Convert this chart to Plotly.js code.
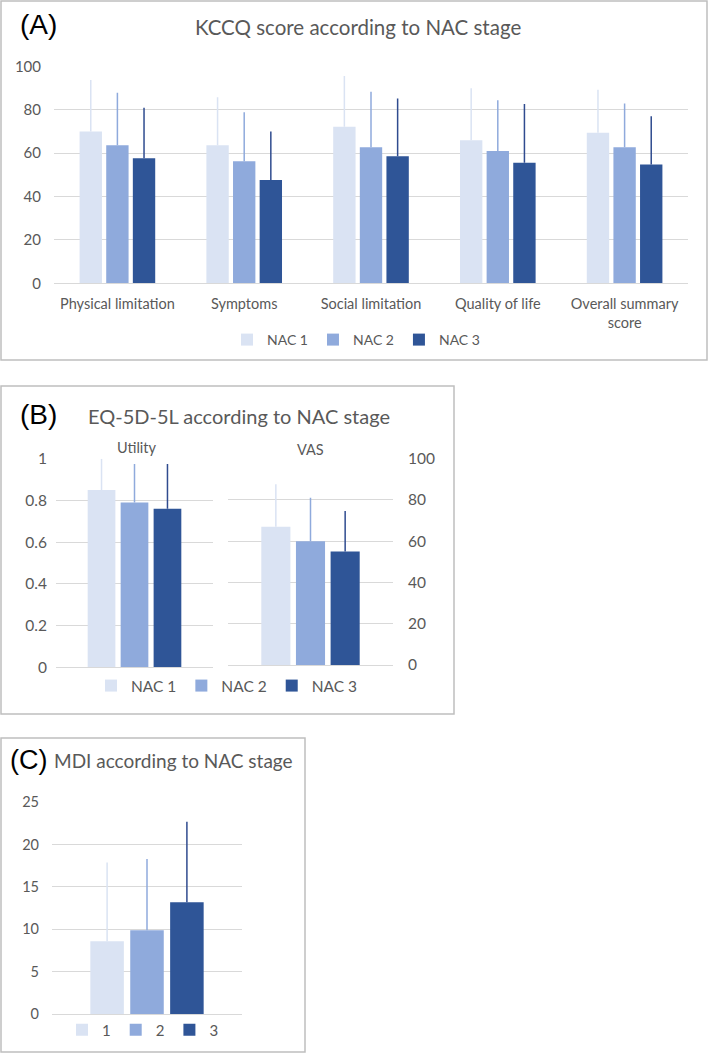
<!DOCTYPE html>
<html>
<head>
<meta charset="utf-8">
<script src="https://cdn.plot.ly/plotly-3.0.1.min.js"></script>
<style>
  html, body { margin: 0; padding: 0; background: #ffffff; }
  #chart { width: 709px; height: 1055px; }
</style>
</head>
<body>
<div id="chart"></div>
<script>
// ---------- DATA ----------
const kccqCategories = ['Physical limitation', 'Symptoms', 'Social limitation', 'Quality of life', 'Overall summary<br>score'];
const kccqNac1 = [69.9, 63.6, 72.2, 65.9, 69.4];
const kccqNac1Sd = [23.8, 22.1, 23.3, 24.0, 19.8];
const kccqNac2 = [63.6, 56.2, 62.7, 61.0, 62.7];
const kccqNac2Sd = [24.2, 22.6, 25.6, 23.3, 20.2];
const kccqNac3 = [57.6, 47.6, 58.5, 55.6, 54.8];
const kccqNac3Sd = [23.3, 22.3, 26.7, 27.0, 22.2];

const stageNames = ['NAC 1', 'NAC 2', 'NAC 3'];
const utilityMeans = [0.85, 0.79, 0.76];
const utilitySd = [0.15, 0.185, 0.215];
const vasMeans = [67, 60, 55];
const vasSd = [20.6, 21.1, 19.6];

const mdiNames = ['1', '2', '3'];
const mdiMeans = [8.6, 9.9, 13.2];
const mdiSd = [9.3, 8.4, 9.5];

const panelATicks = [0, 20, 40, 60, 80, 100];
const utilityTicks = [0, 0.2, 0.4, 0.6, 0.8, 1];
const vasTicks = [0, 20, 40, 60, 80, 100];
const mdiTicks = [0, 5, 10, 15, 20, 25];

// ---------- STYLE ----------
const colors = ['#DAE3F3', '#8FAADC', '#2F5597'];
const errColors = ['#DAE3F3', '#8FAADC', '#2F4B8F'];
const W = 709, H = 1055;
const px = v => v / W;
const py = v => 1 - v / H;
const FONT = 'Lato, "Open Sans", sans-serif';
const GRAY = '#595959';
const GRID = '#D9D9D9';

function bar(x, y, sd, i, name, xa, ya, legend, show) {
  return {
    type: 'bar', x: x, y: y, name: name,
    xaxis: xa, yaxis: ya, legend: legend, showlegend: show,
    marker: { color: colors[i] },
    error_y: { type: 'data', symmetric: false, array: sd, arrayminus: sd.map(() => 0),
               color: errColors[i], thickness: 1.5, width: 0, visible: true },
    hoverinfo: 'skip'
  };
}

const kMeans = [kccqNac1, kccqNac2, kccqNac3];
const kSd = [kccqNac1Sd, kccqNac2Sd, kccqNac3Sd];
const traces = [];
for (let i = 0; i < 3; i++) traces.push(bar(kccqCategories, kMeans[i], kSd[i], i, stageNames[i], 'x', 'y', 'legend', true));
for (let i = 0; i < 3; i++) traces.push(bar(['Utility'], [utilityMeans[i]], [utilitySd[i]], i, stageNames[i], 'x2', 'y2', 'legend2', true));
for (let i = 0; i < 3; i++) traces.push(bar(['VAS'], [vasMeans[i]], [vasSd[i]], i, stageNames[i], 'x3', 'y3', 'legend2', false));
for (let i = 0; i < 3; i++) traces.push(bar(['MDI'], [mdiMeans[i]], [mdiSd[i]], i, mdiNames[i], 'x4', 'y4', 'legend3', true));

function yax(domain, anchor, range, ticks, fs, standoff, side) {
  return {
    domain: domain, anchor: anchor, range: range, tickvals: ticks, ticktext: ticks.map(String),
    showgrid: true, gridcolor: GRID, gridwidth: 1, zeroline: false, showline: false,
    ticks: '', tickfont: { family: FONT, size: fs, color: GRAY },
    ticklabelstandoff: standoff, side: side || 'left', fixedrange: true
  };
}
function xax(domain, anchor, showLabels) {
  return {
    domain: domain, anchor: anchor, type: 'category', showgrid: false, zeroline: false,
    showline: true, linecolor: GRID, linewidth: 1, ticks: '',
    showticklabels: showLabels, tickfont: { family: FONT, size: 14.5, color: GRAY },
    ticklabelstandoff: 7, fixedrange: true
  };
}

function legendAt(x, y, fs) {
  return {
    orientation: 'h', x: x, y: y, xanchor: 'center', yanchor: 'middle',
    xref: 'paper', yref: 'paper', bgcolor: 'rgba(0,0,0,0)',
    font: { family: FONT, size: fs, color: GRAY }, traceorder: 'normal',
    itemwidth: 30, tracegroupgap: 0
  };
}

function frame(x0, y0, x1, y1) {
  return { type: 'rect', xref: 'paper', yref: 'paper', x0: px(x0), x1: px(x1), y0: py(y1), y1: py(y0),
           line: { color: '#BFBFBF', width: 1.5 }, fillcolor: 'rgba(0,0,0,0)', layer: 'below' };
}
function label(text, x, y, size, color, family) {
  return { text: text, x: px(x), y: py(y), xref: 'paper', yref: 'paper', showarrow: false,
           xanchor: 'center', yanchor: 'middle', font: { family: family || FONT, size: size, color: color || GRAY } };
}

const layout = {
  width: W, height: H,
  margin: { l: 0, r: 0, t: 0, b: 0 },
  paper_bgcolor: '#ffffff', plot_bgcolor: 'rgba(0,0,0,0)',
  barmode: 'group', bargap: 0.37, bargroupgap: 0.16,
  xaxis: xax([px(54), px(688)], 'y', true),
  yaxis: yax([py(283.3), py(66.3)], 'x', [0, 100], panelATicks, 15, 12),
  xaxis2: xax([px(56), px(213)], 'y2', false),
  yaxis2: yax([py(667.3), py(458.7)], 'x2', [0, 1], utilityTicks, 15.5, 8),
  xaxis3: xax([px(228), px(393)], 'y3', false),
  yaxis3: yax([py(665), py(458.7)], 'x3', [0, 100], vasTicks, 15.5, 14, 'right'),
  xaxis4: xax([px(52), px(242)], 'y4', false),
  yaxis4: yax([py(1014), py(802.3)], 'x4', [0, 25], mdiTicks, 14.5, 12),
  legend: legendAt(px(356), py(340), 14),
  legend2: legendAt(px(227), py(686), 15.5),
  legend3: legendAt(px(143), py(1030), 15),
  shapes: [frame(1, 1, 707, 360), frame(1, 386, 454, 714), frame(1, 738, 305, 1052)],
  annotations: [
    label('(A)', 38, 24, 28, '#000000', 'Arial, "Liberation Sans", sans-serif'),
    label('KCCQ score according to NAC stage', 358, 27, 20.5),
    label('(B)', 38, 415, 28, '#000000', 'Arial, "Liberation Sans", sans-serif'),
    label('EQ-5D-5L according to NAC stage', 239, 416, 20),
    label('Utility', 137, 447, 14.5),
    label('VAS', 310, 449, 14.5),
    label('(C)', 28, 760, 27, '#000000', 'Arial, "Liberation Sans", sans-serif'),
    label('MDI according to NAC stage', 173, 760, 19)
  ]
};

Plotly.newPlot('chart', traces, layout, { displayModeBar: false, staticPlot: true });
</script>
</body>
</html>
